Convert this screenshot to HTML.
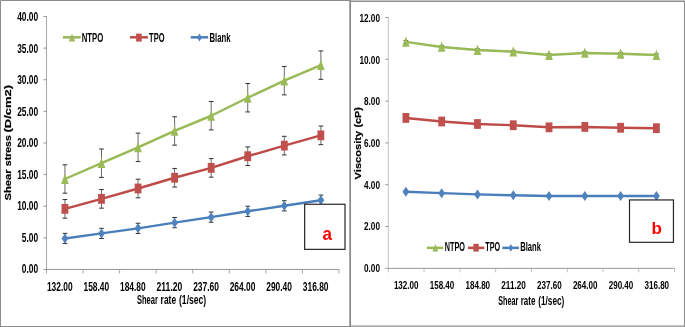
<!DOCTYPE html>
<html lang="en"><head><meta charset="utf-8"><title>Shear stress and viscosity versus shear rate</title>
<style>html,body{margin:0;padding:0;background:#fff}body{width:685px;height:327px;overflow:hidden}svg{display:block}text{font-family:'Liberation Sans', sans-serif;}</style>
</head><body>
<svg width="685" height="327" viewBox="0 0 685 327">
<rect width="685" height="327" fill="#fff"/>
<path d="M0.5 327V0.5H350" stroke="#8c8c8c" stroke-width="1" fill="none"/>
<path d="M0 326.5H350" stroke="#8c8c8c" stroke-width="1.1" fill="none"/>
<path d="M350 326.1H685" stroke="#8c8c8c" stroke-width="1.2" fill="none"/>
<path d="M350.15 0V327" stroke="#8c8c8c" stroke-width="1.8" fill="none"/>
<path d="M350 1.3H685" stroke="#8c8c8c" stroke-width="1.4" fill="none"/>
<path d="M684.5 1V327" stroke="#8c8c8c" stroke-width="1.1" fill="none"/>
<path d="M46.5 16.5V273.45M83.06 269.45V273.45M119.62 269.45V273.45M156.19 269.45V273.45M192.75 269.45V273.45M229.31 269.45V273.45M265.88 269.45V273.45M302.44 269.45V273.45M339.00 269.45V273.45" stroke="#a6a6a6" stroke-width="1" fill="none"/>
<path d="M43.5 269.45H339.0M43.50 237.83H46.5M43.50 206.21H46.5M43.50 174.59H46.5M43.50 142.97H46.5M43.50 111.36H46.5M43.50 79.74H46.5M43.50 48.12H46.5M43.50 16.50H46.5" stroke="#949494" stroke-width="1" fill="none"/>
<text x="21.85" y="273.25" font-size="12.0" font-weight="bold" fill="#000" text-anchor="start" textLength="16.35" lengthAdjust="spacingAndGlyphs">0.00</text>
<text x="21.85" y="241.76" font-size="12.0" font-weight="bold" fill="#000" text-anchor="start" textLength="16.35" lengthAdjust="spacingAndGlyphs">5.00</text>
<text x="17.18" y="210.28" font-size="12.0" font-weight="bold" fill="#000" text-anchor="start" textLength="21.02" lengthAdjust="spacingAndGlyphs">10.00</text>
<text x="17.18" y="178.80" font-size="12.0" font-weight="bold" fill="#000" text-anchor="start" textLength="21.02" lengthAdjust="spacingAndGlyphs">15.00</text>
<text x="17.18" y="147.32" font-size="12.0" font-weight="bold" fill="#000" text-anchor="start" textLength="21.02" lengthAdjust="spacingAndGlyphs">20.00</text>
<text x="17.18" y="115.84" font-size="12.0" font-weight="bold" fill="#000" text-anchor="start" textLength="21.02" lengthAdjust="spacingAndGlyphs">25.00</text>
<text x="17.18" y="84.36" font-size="12.0" font-weight="bold" fill="#000" text-anchor="start" textLength="21.02" lengthAdjust="spacingAndGlyphs">30.00</text>
<text x="17.18" y="52.88" font-size="12.0" font-weight="bold" fill="#000" text-anchor="start" textLength="21.02" lengthAdjust="spacingAndGlyphs">35.00</text>
<text x="17.18" y="21.40" font-size="12.0" font-weight="bold" fill="#000" text-anchor="start" textLength="21.02" lengthAdjust="spacingAndGlyphs">40.00</text>
<text x="46.90" y="290.70" font-size="12.0" font-weight="bold" fill="#000" text-anchor="start" textLength="25.70" lengthAdjust="spacingAndGlyphs">132.00</text>
<text x="83.46" y="290.70" font-size="12.0" font-weight="bold" fill="#000" text-anchor="start" textLength="25.70" lengthAdjust="spacingAndGlyphs">158.40</text>
<text x="120.02" y="290.70" font-size="12.0" font-weight="bold" fill="#000" text-anchor="start" textLength="25.70" lengthAdjust="spacingAndGlyphs">184.80</text>
<text x="156.58" y="290.70" font-size="12.0" font-weight="bold" fill="#000" text-anchor="start" textLength="25.70" lengthAdjust="spacingAndGlyphs">211.20</text>
<text x="193.14" y="290.70" font-size="12.0" font-weight="bold" fill="#000" text-anchor="start" textLength="25.70" lengthAdjust="spacingAndGlyphs">237.60</text>
<text x="229.70" y="290.70" font-size="12.0" font-weight="bold" fill="#000" text-anchor="start" textLength="25.70" lengthAdjust="spacingAndGlyphs">264.00</text>
<text x="266.26" y="290.70" font-size="12.0" font-weight="bold" fill="#000" text-anchor="start" textLength="25.70" lengthAdjust="spacingAndGlyphs">290.40</text>
<text x="302.82" y="290.70" font-size="12.0" font-weight="bold" fill="#000" text-anchor="start" textLength="25.70" lengthAdjust="spacingAndGlyphs">316.80</text>
<path d="M64.93 164.80V193.20" stroke="#5a5a5a" stroke-width="0.9" fill="none"/>
<path d="M62.58 164.80h4.7M62.58 193.20h4.7" stroke="#262626" stroke-width="0.95" fill="none"/>
<path d="M101.49 148.99V177.39" stroke="#5a5a5a" stroke-width="0.9" fill="none"/>
<path d="M99.14 148.99h4.7M99.14 177.39h4.7" stroke="#262626" stroke-width="0.95" fill="none"/>
<path d="M138.06 133.18V161.58" stroke="#5a5a5a" stroke-width="0.9" fill="none"/>
<path d="M135.71 133.18h4.7M135.71 161.58h4.7" stroke="#262626" stroke-width="0.95" fill="none"/>
<path d="M174.62 116.73V145.13" stroke="#5a5a5a" stroke-width="0.9" fill="none"/>
<path d="M172.27 116.73h4.7M172.27 145.13h4.7" stroke="#262626" stroke-width="0.95" fill="none"/>
<path d="M211.18 101.55V129.95" stroke="#5a5a5a" stroke-width="0.9" fill="none"/>
<path d="M208.83 101.55h4.7M208.83 129.95h4.7" stroke="#262626" stroke-width="0.95" fill="none"/>
<path d="M247.74 83.53V111.93" stroke="#5a5a5a" stroke-width="0.9" fill="none"/>
<path d="M245.39 83.53h4.7M245.39 111.93h4.7" stroke="#262626" stroke-width="0.95" fill="none"/>
<path d="M284.31 66.45V94.85" stroke="#5a5a5a" stroke-width="0.9" fill="none"/>
<path d="M281.96 66.45h4.7M281.96 94.85h4.7" stroke="#262626" stroke-width="0.95" fill="none"/>
<path d="M320.87 50.95V79.35" stroke="#5a5a5a" stroke-width="0.9" fill="none"/>
<path d="M318.52 50.95h4.7M318.52 79.35h4.7" stroke="#262626" stroke-width="0.95" fill="none"/>
<path d="M64.93 199.56V218.16" stroke="#5a5a5a" stroke-width="0.9" fill="none"/>
<path d="M62.58 199.56h4.7M62.58 218.16h4.7" stroke="#262626" stroke-width="0.95" fill="none"/>
<path d="M101.49 189.56V208.16" stroke="#5a5a5a" stroke-width="0.9" fill="none"/>
<path d="M99.14 189.56h4.7M99.14 208.16h4.7" stroke="#262626" stroke-width="0.95" fill="none"/>
<path d="M138.06 179.19V197.79" stroke="#5a5a5a" stroke-width="0.9" fill="none"/>
<path d="M135.71 179.19h4.7M135.71 197.79h4.7" stroke="#262626" stroke-width="0.95" fill="none"/>
<path d="M174.62 168.44V187.04" stroke="#5a5a5a" stroke-width="0.9" fill="none"/>
<path d="M172.27 168.44h4.7M172.27 187.04h4.7" stroke="#262626" stroke-width="0.95" fill="none"/>
<path d="M211.18 158.57V177.17" stroke="#5a5a5a" stroke-width="0.9" fill="none"/>
<path d="M208.83 158.57h4.7M208.83 177.17h4.7" stroke="#262626" stroke-width="0.95" fill="none"/>
<path d="M247.74 146.93V165.53" stroke="#5a5a5a" stroke-width="0.9" fill="none"/>
<path d="M245.39 146.93h4.7M245.39 165.53h4.7" stroke="#262626" stroke-width="0.95" fill="none"/>
<path d="M284.31 136.31V154.91" stroke="#5a5a5a" stroke-width="0.9" fill="none"/>
<path d="M281.96 136.31h4.7M281.96 154.91h4.7" stroke="#262626" stroke-width="0.95" fill="none"/>
<path d="M320.87 126.06V144.66" stroke="#5a5a5a" stroke-width="0.9" fill="none"/>
<path d="M318.52 126.06h4.7M318.52 144.66h4.7" stroke="#262626" stroke-width="0.95" fill="none"/>
<path d="M64.93 233.36V243.56" stroke="#5a5a5a" stroke-width="0.9" fill="none"/>
<path d="M62.58 233.36h4.7M62.58 243.56h4.7" stroke="#262626" stroke-width="0.95" fill="none"/>
<path d="M101.49 228.30V238.50" stroke="#5a5a5a" stroke-width="0.9" fill="none"/>
<path d="M99.14 228.30h4.7M99.14 238.50h4.7" stroke="#262626" stroke-width="0.95" fill="none"/>
<path d="M138.06 223.24V233.44" stroke="#5a5a5a" stroke-width="0.9" fill="none"/>
<path d="M135.71 223.24h4.7M135.71 233.44h4.7" stroke="#262626" stroke-width="0.95" fill="none"/>
<path d="M174.62 217.54V227.74" stroke="#5a5a5a" stroke-width="0.9" fill="none"/>
<path d="M172.27 217.54h4.7M172.27 227.74h4.7" stroke="#262626" stroke-width="0.95" fill="none"/>
<path d="M211.18 212.04V222.24" stroke="#5a5a5a" stroke-width="0.9" fill="none"/>
<path d="M208.83 212.04h4.7M208.83 222.24h4.7" stroke="#262626" stroke-width="0.95" fill="none"/>
<path d="M247.74 206.22V216.42" stroke="#5a5a5a" stroke-width="0.9" fill="none"/>
<path d="M245.39 206.22h4.7M245.39 216.42h4.7" stroke="#262626" stroke-width="0.95" fill="none"/>
<path d="M284.31 200.72V210.92" stroke="#5a5a5a" stroke-width="0.9" fill="none"/>
<path d="M281.96 200.72h4.7M281.96 210.92h4.7" stroke="#262626" stroke-width="0.95" fill="none"/>
<path d="M320.87 195.09V205.29" stroke="#5a5a5a" stroke-width="0.9" fill="none"/>
<path d="M318.52 195.09h4.7M318.52 205.29h4.7" stroke="#262626" stroke-width="0.95" fill="none"/>
<polyline points="64.93,238.46 101.49,233.40 138.06,228.34 174.62,222.64 211.18,217.14 247.74,211.32 284.31,205.82 320.87,200.19" fill="none" stroke="#4a7ebb" stroke-width="2.45" stroke-linejoin="round" stroke-linecap="round"/>
<path d="M64.93 233.46L68.33 238.46L64.93 243.46L61.53 238.46Z" fill="#4f81bd"/>
<path d="M101.49 228.40L104.89 233.40L101.49 238.40L98.09 233.40Z" fill="#4f81bd"/>
<path d="M138.06 223.34L141.46 228.34L138.06 233.34L134.66 228.34Z" fill="#4f81bd"/>
<path d="M174.62 217.64L178.02 222.64L174.62 227.64L171.22 222.64Z" fill="#4f81bd"/>
<path d="M211.18 212.14L214.58 217.14L211.18 222.14L207.78 217.14Z" fill="#4f81bd"/>
<path d="M247.74 206.32L251.14 211.32L247.74 216.32L244.34 211.32Z" fill="#4f81bd"/>
<path d="M284.31 200.82L287.71 205.82L284.31 210.82L280.91 205.82Z" fill="#4f81bd"/>
<path d="M320.87 195.19L324.27 200.19L320.87 205.19L317.47 200.19Z" fill="#4f81bd"/>
<polyline points="64.93,208.86 101.49,198.86 138.06,188.49 174.62,177.74 211.18,167.87 247.74,156.23 284.31,145.61 320.87,135.36" fill="none" stroke="#be4b48" stroke-width="2.45" stroke-linejoin="round" stroke-linecap="round"/>
<rect x="61.53" y="203.96" width="6.8" height="9.8" fill="#c0504d"/>
<rect x="98.09" y="193.96" width="6.8" height="9.8" fill="#c0504d"/>
<rect x="134.66" y="183.59" width="6.8" height="9.8" fill="#c0504d"/>
<rect x="171.22" y="172.84" width="6.8" height="9.8" fill="#c0504d"/>
<rect x="207.78" y="162.97" width="6.8" height="9.8" fill="#c0504d"/>
<rect x="244.34" y="151.33" width="6.8" height="9.8" fill="#c0504d"/>
<rect x="280.91" y="140.71" width="6.8" height="9.8" fill="#c0504d"/>
<rect x="317.47" y="130.46" width="6.8" height="9.8" fill="#c0504d"/>
<polyline points="64.93,179.00 101.49,163.19 138.06,147.38 174.62,130.93 211.18,115.75 247.74,97.73 284.31,80.65 320.87,65.15" fill="none" stroke="#98b954" stroke-width="2.45" stroke-linejoin="round" stroke-linecap="round"/>
<path d="M64.93 173.51L68.73 183.90H61.13Z" fill="#9bbb59"/>
<path d="M101.49 157.70L105.29 168.09H97.69Z" fill="#9bbb59"/>
<path d="M138.06 141.89L141.86 152.28H134.26Z" fill="#9bbb59"/>
<path d="M174.62 125.44L178.42 135.83H170.82Z" fill="#9bbb59"/>
<path d="M211.18 110.26L214.98 120.65H207.38Z" fill="#9bbb59"/>
<path d="M247.74 92.24L251.54 102.63H243.94Z" fill="#9bbb59"/>
<path d="M284.31 75.16L288.11 85.55H280.51Z" fill="#9bbb59"/>
<path d="M320.87 59.66L324.67 70.05H317.07Z" fill="#9bbb59"/>
<path d="M62.9 37.3H80.7" stroke="#98b954" stroke-width="2.5"/>
<path d="M72.00 33.54L75.20 41.60H68.80Z" fill="#9bbb59"/>
<text x="81.70" y="41.60" font-size="12" font-weight="bold" fill="#000" text-anchor="start" textLength="21.60" lengthAdjust="spacingAndGlyphs">NTPO</text>
<path d="M130.0 37.3H147.9" stroke="#be4b48" stroke-width="2.5"/>
<rect x="136.10" y="33.60" width="5.6" height="8.0" fill="#c0504d"/>
<text x="149.10" y="41.60" font-size="12" font-weight="bold" fill="#000" text-anchor="start" textLength="15.40" lengthAdjust="spacingAndGlyphs">TPO</text>
<path d="M190.7 37.3H208.2" stroke="#4a7ebb" stroke-width="2.5"/>
<path d="M199.50 33.60L201.90 37.60L199.50 41.60L197.10 37.60Z" fill="#4f81bd"/>
<text x="209.50" y="41.60" font-size="12" font-weight="bold" fill="#000" text-anchor="start" textLength="21.10" lengthAdjust="spacingAndGlyphs">Blank</text>
<text y="304.10" font-size="12" font-weight="bold" fill="#000"><tspan x="137.00" textLength="20.90" lengthAdjust="spacingAndGlyphs">Shear</tspan> <tspan x="160.60" textLength="15.50" lengthAdjust="spacingAndGlyphs">rate</tspan> <tspan x="179.00" textLength="27.20" lengthAdjust="spacingAndGlyphs">(1/sec)</tspan></text>
<text transform="translate(10.60,0) rotate(-90)" y="0" font-size="8.9" font-weight="bold" fill="#000" stroke="#000" stroke-width="0.2"><tspan x="-200.40" textLength="31.00" lengthAdjust="spacingAndGlyphs">Shear</tspan> <tspan x="-166.20" textLength="31.00" lengthAdjust="spacingAndGlyphs">stress</tspan> <tspan x="-132.50" textLength="47.60" lengthAdjust="spacingAndGlyphs">(D/cm2)</tspan></text>
<rect x="304.66" y="204.27" width="40.34" height="45.09" fill="#fff" stroke="#262626" stroke-width="1.2"/>
<text x="322.6" y="239.8" font-size="19" font-weight="bold" fill="#ff0000" textLength="9.5" lengthAdjust="spacingAndGlyphs">a</text>
<path d="M388.3 17.5V272.35M424.09 268.35V272.35M459.88 268.35V272.35M495.66 268.35V272.35M531.45 268.35V272.35M567.24 268.35V272.35M603.03 268.35V272.35M638.81 268.35V272.35M674.60 268.35V272.35" stroke="#c2c2c2" stroke-width="1" fill="none"/>
<path d="M385.3 268.35H674.6M385.30 226.54H388.3M385.30 184.73H388.3M385.30 142.93H388.3M385.30 101.12H388.3M385.30 59.31H388.3M385.30 17.50H388.3" stroke="#989898" stroke-width="1" fill="none"/>
<text x="364.04" y="271.88" font-size="11.4" font-weight="bold" fill="#000" text-anchor="start" textLength="15.96" lengthAdjust="spacingAndGlyphs">0.00</text>
<text x="364.04" y="230.21" font-size="11.4" font-weight="bold" fill="#000" text-anchor="start" textLength="15.96" lengthAdjust="spacingAndGlyphs">2.00</text>
<text x="364.04" y="188.53" font-size="11.4" font-weight="bold" fill="#000" text-anchor="start" textLength="15.96" lengthAdjust="spacingAndGlyphs">4.00</text>
<text x="364.04" y="146.86" font-size="11.4" font-weight="bold" fill="#000" text-anchor="start" textLength="15.96" lengthAdjust="spacingAndGlyphs">6.00</text>
<text x="364.04" y="105.18" font-size="11.4" font-weight="bold" fill="#000" text-anchor="start" textLength="15.96" lengthAdjust="spacingAndGlyphs">8.00</text>
<text x="359.48" y="63.51" font-size="11.4" font-weight="bold" fill="#000" text-anchor="start" textLength="20.52" lengthAdjust="spacingAndGlyphs">10.00</text>
<text x="359.48" y="21.83" font-size="11.4" font-weight="bold" fill="#000" text-anchor="start" textLength="20.52" lengthAdjust="spacingAndGlyphs">12.00</text>
<text x="393.90" y="289.30" font-size="11.4" font-weight="bold" fill="#000" text-anchor="start" textLength="24.60" lengthAdjust="spacingAndGlyphs">132.00</text>
<text x="429.70" y="289.30" font-size="11.4" font-weight="bold" fill="#000" text-anchor="start" textLength="24.60" lengthAdjust="spacingAndGlyphs">158.40</text>
<text x="465.50" y="289.30" font-size="11.4" font-weight="bold" fill="#000" text-anchor="start" textLength="24.60" lengthAdjust="spacingAndGlyphs">184.80</text>
<text x="501.30" y="289.30" font-size="11.4" font-weight="bold" fill="#000" text-anchor="start" textLength="24.60" lengthAdjust="spacingAndGlyphs">211.20</text>
<text x="537.10" y="289.30" font-size="11.4" font-weight="bold" fill="#000" text-anchor="start" textLength="24.60" lengthAdjust="spacingAndGlyphs">237.60</text>
<text x="572.90" y="289.30" font-size="11.4" font-weight="bold" fill="#000" text-anchor="start" textLength="24.60" lengthAdjust="spacingAndGlyphs">264.00</text>
<text x="608.70" y="289.30" font-size="11.4" font-weight="bold" fill="#000" text-anchor="start" textLength="24.60" lengthAdjust="spacingAndGlyphs">290.40</text>
<text x="644.50" y="289.30" font-size="11.4" font-weight="bold" fill="#000" text-anchor="start" textLength="24.60" lengthAdjust="spacingAndGlyphs">316.80</text>
<path d="M405.89 40.70V43.10" stroke="#5a5a5a" stroke-width="0.9" fill="none"/>
<path d="M403.54 40.70h4.7M403.54 43.10h4.7" stroke="#262626" stroke-width="0.95" fill="none"/>
<path d="M441.68 45.72V48.12" stroke="#5a5a5a" stroke-width="0.9" fill="none"/>
<path d="M439.33 45.72h4.7M439.33 48.12h4.7" stroke="#262626" stroke-width="0.95" fill="none"/>
<path d="M477.47 48.85V51.25" stroke="#5a5a5a" stroke-width="0.9" fill="none"/>
<path d="M475.12 48.85h4.7M475.12 51.25h4.7" stroke="#262626" stroke-width="0.95" fill="none"/>
<path d="M513.26 50.52V52.92" stroke="#5a5a5a" stroke-width="0.9" fill="none"/>
<path d="M510.91 50.52h4.7M510.91 52.92h4.7" stroke="#262626" stroke-width="0.95" fill="none"/>
<path d="M549.04 53.86V56.26" stroke="#5a5a5a" stroke-width="0.9" fill="none"/>
<path d="M546.69 53.86h4.7M546.69 56.26h4.7" stroke="#262626" stroke-width="0.95" fill="none"/>
<path d="M584.83 51.77V54.17" stroke="#5a5a5a" stroke-width="0.9" fill="none"/>
<path d="M582.48 51.77h4.7M582.48 54.17h4.7" stroke="#262626" stroke-width="0.95" fill="none"/>
<path d="M620.62 52.61V55.01" stroke="#5a5a5a" stroke-width="0.9" fill="none"/>
<path d="M618.27 52.61h4.7M618.27 55.01h4.7" stroke="#262626" stroke-width="0.95" fill="none"/>
<path d="M656.41 53.86V56.26" stroke="#5a5a5a" stroke-width="0.9" fill="none"/>
<path d="M654.06 53.86h4.7M654.06 56.26h4.7" stroke="#262626" stroke-width="0.95" fill="none"/>
<polyline points="405.89,191.68 441.68,193.15 477.47,194.40 513.26,195.24 549.04,196.07 584.83,196.07 620.62,196.07 656.41,196.07" fill="none" stroke="#4a7ebb" stroke-width="2.45" stroke-linejoin="round" stroke-linecap="round"/>
<path d="M405.89 186.68L409.29 191.68L405.89 196.68L402.49 191.68Z" fill="#4f81bd"/>
<path d="M441.68 188.15L445.08 193.15L441.68 198.15L438.28 193.15Z" fill="#4f81bd"/>
<path d="M477.47 189.40L480.87 194.40L477.47 199.40L474.07 194.40Z" fill="#4f81bd"/>
<path d="M513.26 190.24L516.66 195.24L513.26 200.24L509.86 195.24Z" fill="#4f81bd"/>
<path d="M549.04 191.07L552.44 196.07L549.04 201.07L545.64 196.07Z" fill="#4f81bd"/>
<path d="M584.83 191.07L588.23 196.07L584.83 201.07L581.43 196.07Z" fill="#4f81bd"/>
<path d="M620.62 191.07L624.02 196.07L620.62 201.07L617.22 196.07Z" fill="#4f81bd"/>
<path d="M656.41 191.07L659.81 196.07L656.41 201.07L653.01 196.07Z" fill="#4f81bd"/>
<polyline points="405.89,117.94 441.68,121.49 477.47,124.00 513.26,125.25 549.04,127.34 584.83,126.92 620.62,127.76 656.41,128.18" fill="none" stroke="#be4b48" stroke-width="2.45" stroke-linejoin="round" stroke-linecap="round"/>
<rect x="402.49" y="113.04" width="6.8" height="9.8" fill="#c0504d"/>
<rect x="438.28" y="116.59" width="6.8" height="9.8" fill="#c0504d"/>
<rect x="474.07" y="119.10" width="6.8" height="9.8" fill="#c0504d"/>
<rect x="509.86" y="120.35" width="6.8" height="9.8" fill="#c0504d"/>
<rect x="545.64" y="122.44" width="6.8" height="9.8" fill="#c0504d"/>
<rect x="581.43" y="122.02" width="6.8" height="9.8" fill="#c0504d"/>
<rect x="617.22" y="122.86" width="6.8" height="9.8" fill="#c0504d"/>
<rect x="653.01" y="123.28" width="6.8" height="9.8" fill="#c0504d"/>
<polyline points="405.89,41.90 441.68,46.92 477.47,50.05 513.26,51.72 549.04,55.06 584.83,52.97 620.62,53.81 656.41,55.06" fill="none" stroke="#98b954" stroke-width="2.45" stroke-linejoin="round" stroke-linecap="round"/>
<path d="M405.89 36.41L409.69 46.80H402.09Z" fill="#9bbb59"/>
<path d="M441.68 41.43L445.48 51.82H437.88Z" fill="#9bbb59"/>
<path d="M477.47 44.56L481.27 54.95H473.67Z" fill="#9bbb59"/>
<path d="M513.26 46.23L517.06 56.62H509.46Z" fill="#9bbb59"/>
<path d="M549.04 49.58L552.84 59.96H545.24Z" fill="#9bbb59"/>
<path d="M584.83 47.49L588.63 57.87H581.03Z" fill="#9bbb59"/>
<path d="M620.62 48.32L624.42 58.71H616.82Z" fill="#9bbb59"/>
<path d="M656.41 49.58L660.21 59.96H652.61Z" fill="#9bbb59"/>
<path d="M426.9 247.85H443.2" stroke="#98b954" stroke-width="2.5"/>
<path d="M435.40 243.76L438.35 251.60H432.45Z" fill="#9bbb59"/>
<text x="444.70" y="251.40" font-size="11.9" font-weight="bold" fill="#000" text-anchor="start" textLength="20.20" lengthAdjust="spacingAndGlyphs">NTPO</text>
<path d="M468.0 247.85H484.3" stroke="#be4b48" stroke-width="2.5"/>
<rect x="473.40" y="243.80" width="5.4" height="7.8" fill="#c0504d"/>
<text x="485.30" y="251.40" font-size="11.9" font-weight="bold" fill="#000" text-anchor="start" textLength="14.80" lengthAdjust="spacingAndGlyphs">TPO</text>
<path d="M502.3 247.85H518.9" stroke="#4a7ebb" stroke-width="2.5"/>
<path d="M510.80 244.10L513.10 247.90L510.80 251.70L508.50 247.90Z" fill="#4f81bd"/>
<text x="520.20" y="251.40" font-size="11.9" font-weight="bold" fill="#000" text-anchor="start" textLength="20.70" lengthAdjust="spacingAndGlyphs">Blank</text>
<text y="304.50" font-size="12" font-weight="bold" fill="#000"><tspan x="498.20" textLength="20.00" lengthAdjust="spacingAndGlyphs">Shear</tspan> <tspan x="520.70" textLength="14.80" lengthAdjust="spacingAndGlyphs">rate</tspan> <tspan x="538.30" textLength="26.00" lengthAdjust="spacingAndGlyphs">(1/sec)</tspan></text>
<text transform="translate(360.50,0) rotate(-90)" y="0" font-size="8.6" font-weight="bold" fill="#000" stroke="#000" stroke-width="0.2"><tspan x="-179.40" textLength="48.60" lengthAdjust="spacingAndGlyphs">Viscosity</tspan> <tspan x="-127.60" textLength="20.50" lengthAdjust="spacingAndGlyphs">(cP)</tspan></text>
<rect x="629.5" y="199.95" width="43.95" height="42.35" fill="#fff" stroke="#262626" stroke-width="1.2"/>
<text x="651.4" y="234.1" font-size="17" font-weight="bold" fill="#ff0000">b</text>
</svg></body></html>
